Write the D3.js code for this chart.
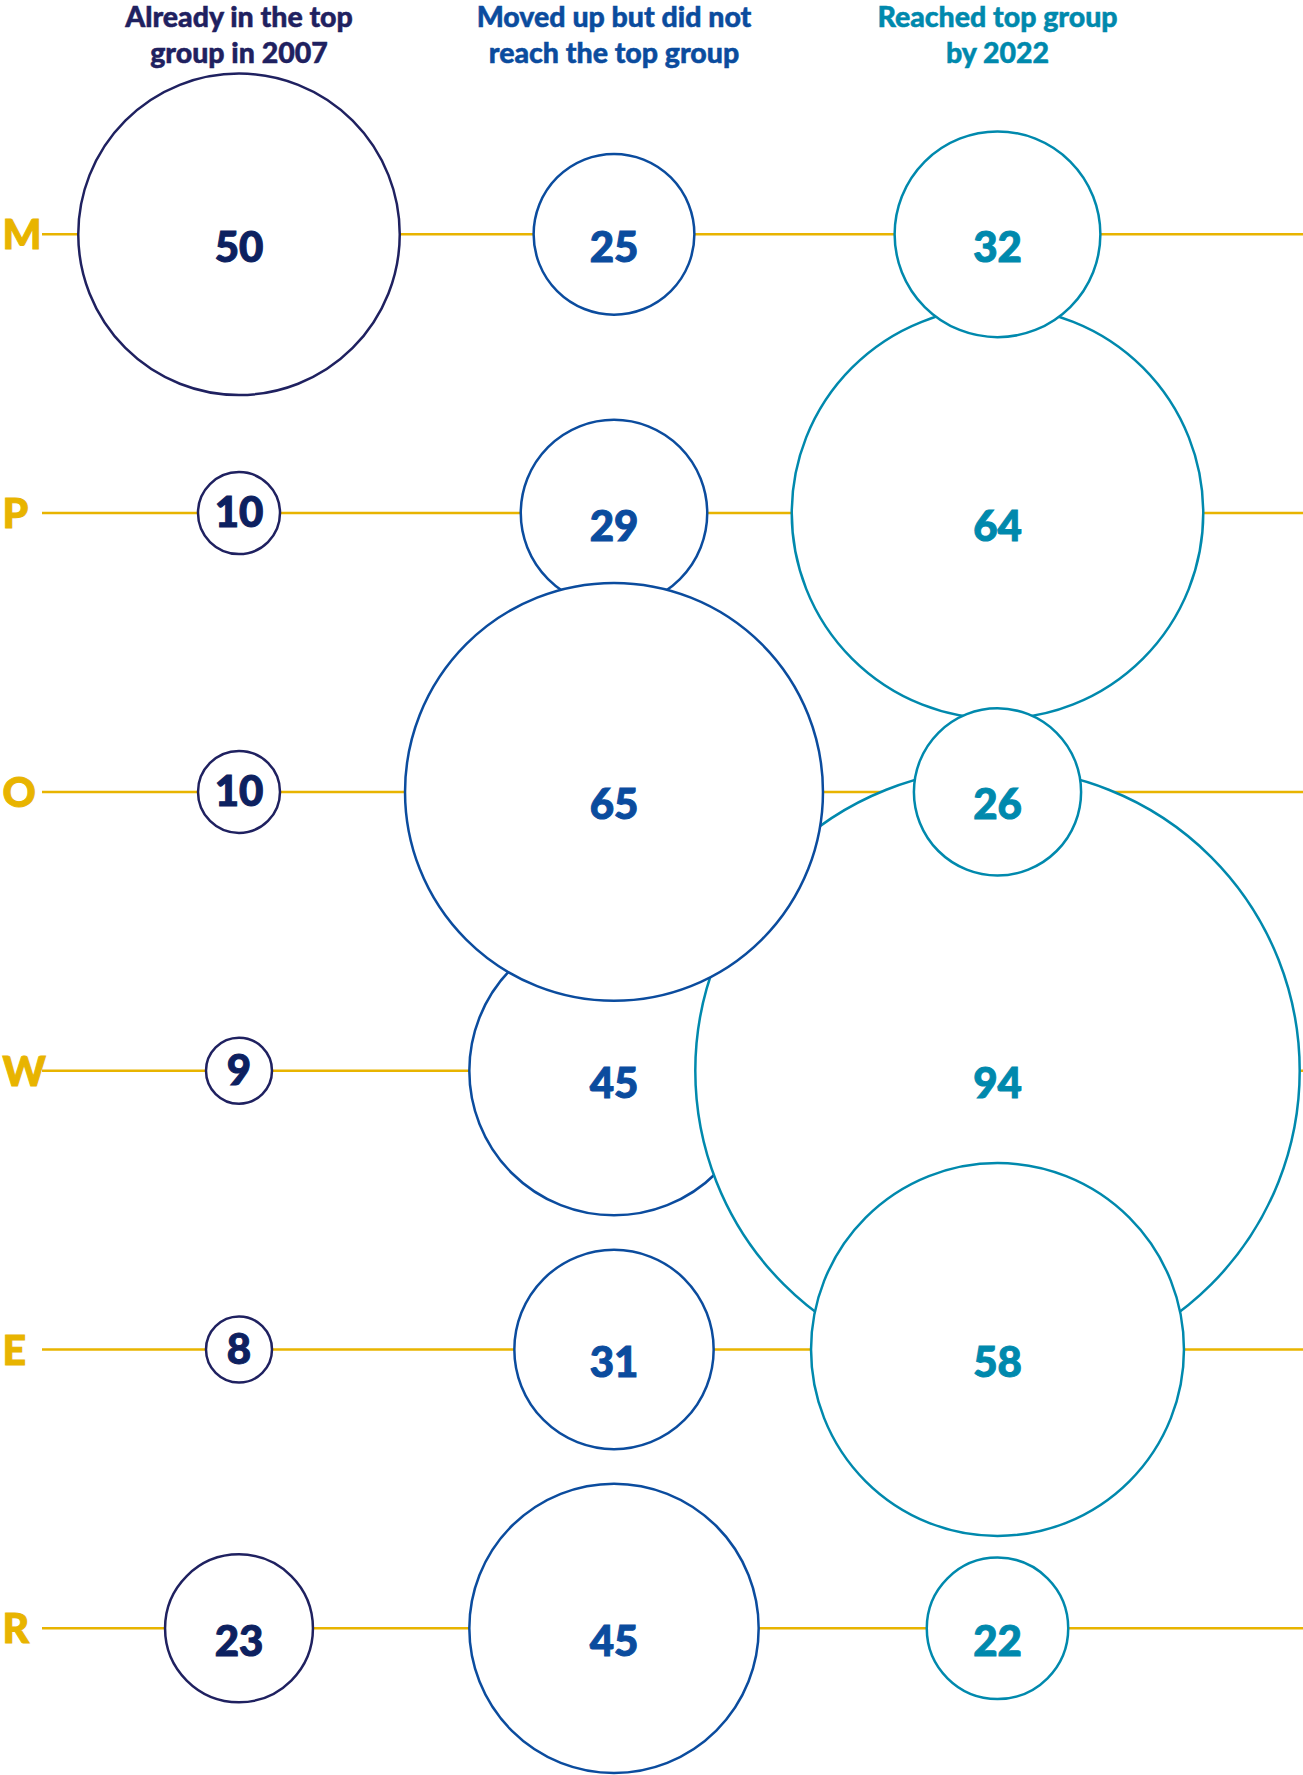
<!DOCTYPE html>
<html>
<head>
<meta charset="utf-8">
<script src="https://cdn.jsdelivr.net/npm/d3@7"></script>
<style>
  html, body { margin: 0; padding: 0; background: #fff; }
  svg { display: block; }
  text { font-family: Lato, "Noto Sans", sans-serif; font-weight: 900; }
</style>
</head>
<body>
<script>
// rows (regions) and the three groups
var rows = ["M", "P", "O", "W", "E", "R"];
var groups = ["already", "moved", "reached"];
var headerLines = [
  ["Already in the top", "group in 2007"],
  ["Moved up but did not", "reach the top group"],
  ["Reached top group", "by 2022"]
];
// values per group, in row order
var alreadyTop = [50, 10, 10, 9, 8, 23];
var movedUp = [25, 29, 65, 45, 31, 45];
var reachedTop = [32, 64, 26, 94, 58, 22];

var width = 1303, height = 1775;
var gold = "#E8B400";
var colors = { already: "#1F2160", moved: "#0B4C9E", reached: "#0089AD" };

var svg = d3.select("body").append("svg")
  .attr("width", width)
  .attr("height", height);

var x = d3.scaleOrdinal().domain(groups).range([239, 614, 997.5]);
var y = d3.scalePoint().domain(rows).range([234.3, 1628.3]);
var r = d3.scaleLinear().domain([0, 94]).range([0, 302.2]);

// flatten the series into one list of circles
var series = [alreadyTop, movedUp, reachedTop];
var cells = [];
groups.forEach(function(g, gi) {
  series[gi].forEach(function(v, ri) {
    var label = String(v);
    var minR = 25 + 8 * label.length; // room for the number
    var rad = Math.max(r(v), minR);
    cells.push({ group: g, gi: gi, row: rows[ri], value: v, label: label, r: rad, small: r(v) < minR });
  });
});

// stacking: first group, then second group, third group largest first,
// and the largest circle of the second group on top of all
var movedMax = d3.max(movedUp);
function zKey(d) {
  if (d.group === "moved" && d.value === movedMax) return 1000;
  if (d.group === "reached") return 200 - d.value;
  return d.gi * 100;
}
cells.sort(function(a, b) { return zKey(a) - zKey(b); });

// header
var header = svg.append("g");
groups.forEach(function(g, gi) {
  header.append("text")
    .attr("x", x(g))
    .attr("text-anchor", "middle")
    .attr("fill", colors[g])
    .attr("stroke", colors[g])
    .attr("stroke-width", 0.5)
    .style("font-size", "28.5px")
    .selectAll("tspan")
    .data(headerLines[gi])
    .enter()
    .append("tspan")
    .attr("x", x(g))
    .attr("y", function(d, i) { return 26.7 + i * 36; })
    .text(function(d) { return d; });
});

// row lines and labels
var rowG = svg.append("g");
rowG.selectAll("line")
  .data(rows)
  .enter()
  .append("line")
  .attr("x1", 42)
  .attr("x2", width)
  .attr("y1", function(d) { return y(d); })
  .attr("y2", function(d) { return y(d); })
  .attr("stroke", gold)
  .attr("stroke-width", 2.5);

rowG.selectAll("text")
  .data(rows)
  .enter()
  .append("text")
  .attr("x", 2.5)
  .attr("y", function(d) { return y(d) + 15; })
  .attr("fill", gold)
  .attr("stroke", gold)
  .attr("stroke-width", 1)
  .style("font-size", "41px")
  .text(function(d) { return d; });

// circles
var node = svg.append("g")
  .selectAll("g")
  .data(cells)
  .enter()
  .append("g")
  .attr("transform", function(d) { return "translate(" + x(d.group) + "," + y(d.row) + ")"; });

node.append("circle")
  .attr("r", function(d) { return d.r; })
  .attr("fill", "#fff")
  .attr("stroke", function(d) { return colors[d.group]; })
  .attr("stroke-width", 2.5);

node.append("text")
  .attr("text-anchor", "middle")
  .attr("y", function(d) { return d.small ? 14 : 27.4; })
  .attr("fill", function(d) { return d.group === "already" ? "#0D2160" : colors[d.group]; })
  .attr("stroke", function(d) { return d.group === "already" ? "#0D2160" : colors[d.group]; })
  .attr("stroke-width", 1)
  .style("font-size", "42px")
  .text(function(d) { return d.label; });
</script>
</body>
</html>
